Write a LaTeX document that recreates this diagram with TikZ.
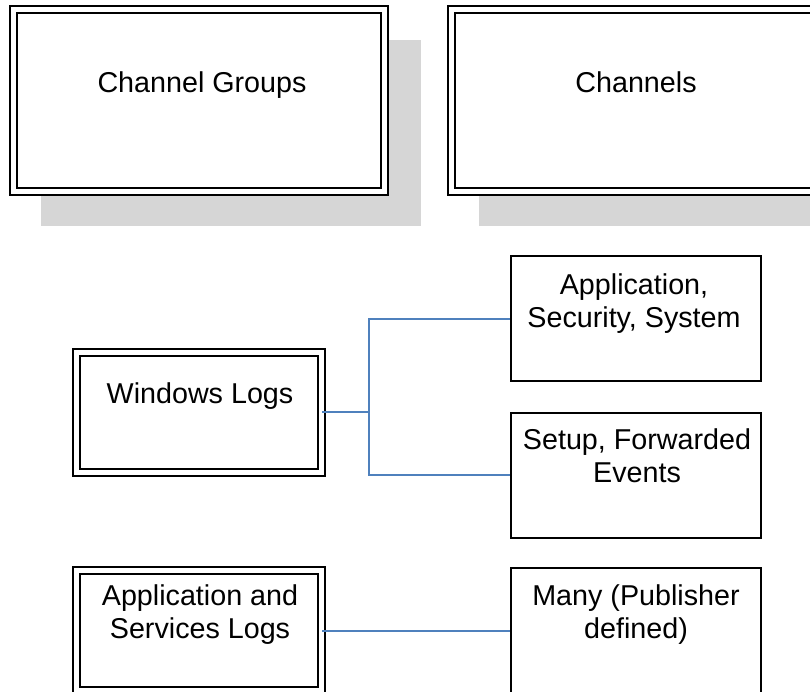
\documentclass[tikz,border=0pt]{standalone}
\usepackage{fontspec}
\setmainfont{Liberation Sans}
\usetikzlibrary{shadows}
\usetikzlibrary{positioning}

\definecolor{linkblue}{RGB}{79,129,189}
\definecolor{shadowgray}{RGB}{214,214,214}

\begin{document}
\begin{tikzpicture}[x=1pt,y=-1pt,line width=2pt,
	head node/.style={rectangle,draw,double,double distance=5pt,fill=white,inner sep=0pt,
		minimum width=370.5pt,minimum height=182pt,
		general shadow={fill=shadowgray,shadow xshift=31.25pt,shadow yshift=-31.5pt,shadow scale=1.025}},
	group node/.style={rectangle,draw,double,double distance=5pt,fill=white,inner sep=0pt,
		minimum width=244.5pt,minimum height=119.5pt},
	chan node/.style={rectangle,draw,fill=white,inner sep=0pt,
		minimum width=250pt,minimum height=125pt},
	txt/.style={font=\fontsize{28.7}{33}\selectfont,align=center,inner sep=0pt,anchor=base},
	link/.style={draw=linkblue,line width=2pt}]

	\useasboundingbox (0,0) rectangle (810,691);
	\clip (0,0) rectangle (810,691);

	% header boxes
	\node[head node] (cg) at (198.75,100.5) {};
	\node[head node] (ch) at (636.75,100.5) {};
	\node[txt] (cgtxt) at (202,92) {Channel Groups};
	\node[txt] (chtxt) at (636,92) {Channels};

	% groups
	\node[group node] (wl) at (198.75,412.25) {};
	\node[group node] (asl) at (198.75,630.5) {};
	\node[txt] (wltxt) at (200,403) {Windows Logs};
	\node[txt] (asltxt) at (200,638) {Application and\\Services Logs};

	% channels
	\node[chan node] (app) at (636,318.5) {};
	\node[chan node] (setup) at (636,475) {};
	\node[chan node] (many) at (636,630.5) {};
	\node[txt] (apptxt) at (634,327) {Application,\\Security, System};
	\node[txt] (setuptxt) at (637,482) {Setup, Forwarded\\Events};
	\node[txt] (manytxt) at (636,638) {Many (Publisher\\defined)};

	\path[link]
	(wl.east) -- ++(47,0) |- (app.west)
	(wl.east) -- ++(47,0) |- (setup.west)
	(asl.east) -- (many.west);
\end{tikzpicture}
\end{document}
